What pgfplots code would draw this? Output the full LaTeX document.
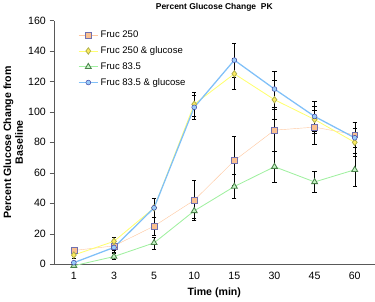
\documentclass[border=0pt]{standalone}
\usepackage{pgfplots}
\pgfplotsset{compat=1.18}
\usepackage{fontspec}
\setmainfont{Liberation Sans}
\definecolor{cOr}{HTML}{FFC8A0}
\definecolor{cOrF}{HTML}{FAC090}
\definecolor{cPur}{HTML}{7070B0}
\definecolor{cYe}{HTML}{FFFF70}
\definecolor{cGr}{HTML}{A0F0A0}
\definecolor{cBl}{HTML}{80C0F8}
\pgfplotsset{legend image code/.code={\draw[mark repeat=2,mark phase=2,#1] plot coordinates {(0cm,0cm) (0.32cm,0cm) (0.64cm,0cm)};}}
\begin{document}
\begin{tikzpicture}
\begin{axis}[
  scale only axis, width=303pt, height=230pt,
  xmin=-0.5, xmax=7.5, ymin=0, ymax=160,
  axis lines*=left, axis line style={draw=gray!70!black},
  xtick={0,...,7}, xticklabels={1,3,5,10,15,30,45,60},
  major x tick style={draw=none},
  extra x ticks={0.5,1.5,2.5,3.5,4.5,5.5,6.5},
  extra x tick labels={},
  extra x tick style={tick align=outside, major tick length=4pt, tick style={draw=gray!70!black}},
  ytick={0,20,...,160},
  tick align=outside, major tick length=4pt, tick style={draw=gray!70!black},
  tick label style={font=\fontsize{10}{11}\selectfont},
  /pgf/number format/assume math mode=true,
  title={\textbf{Percent Glucose Change\ \ PK}}, title style={font=\fontsize{8}{9}\selectfont, yshift=-1pt},
  xlabel={\textbf{Time (min)}}, xlabel style={font=\fontsize{10}{11}\selectfont, yshift=7pt},
  ylabel={\textbf{Percent Glucose Change from}\\\textbf{Baseline}}, ylabel style={font=\fontsize{10}{11}\selectfont, align=center, yshift=-2pt},
  legend style={draw=none, fill=none, at={(0.065,0.975)}, anchor=north west, font=\fontsize{9}{10}\selectfont, row sep=3pt,
    /tikz/every even column/.append style={column sep=0pt}},
  legend cell align=left,
  clip=false,
]
\addplot[cOr, thin, mark=square*, mark size=2.8pt, mark options={fill=cOrF, draw=cPur},
  error bars/.cd, y dir=both, y explicit, error bar style={black, thin}, error mark options={rotate=90, black, mark size=2pt}]
 coordinates {(0,9) +- (0,2) (1,12) +- (0,3) (2,25) +- (0,6) (3,42) +- (0,13) (4,68) +- (0,16) (5,88) +- (0,14) (6,90) +- (0,11) (7,85) +- (0,8)};
\addlegendentry{Fruc 250}
\addplot[cYe, thick, mark=diamond*, mark size=3pt, mark options={fill=cYe!85!orange, draw=cYe!70!black},
  error bars/.cd, y dir=both, y explicit, error bar style={black, thin}, error mark options={rotate=90, black, mark size=2pt}]
 coordinates {(0,6) +- (0,2) (1,15) +- (0,3) (2,37) +- (0,6) (3,105) +- (0,8) (4,125) +- (0,10) (5,108) +- (0,13) (6,95) +- (0,9) (7,80) +- (0,9)};
\addlegendentry{Fruc 250  \& glucose}
\addplot[cGr, thick, mark=triangle*, mark size=3.2pt, mark options={fill=cGr!60!white, draw=green!30!black!70},
  error bars/.cd, y dir=both, y explicit, error bar style={black, thin}, error mark options={rotate=90, black, mark size=2pt}]
 coordinates {(0,-1) +- (0,1) (1,5) +- (0,2) (2,14) +- (0,4) (3,35) +- (0,5) (4,51) +- (0,8) (5,64) +- (0,10) (6,54) +- (0,7) (7,62) +- (0,11)};
\addlegendentry{Fruc 83.5}
\addplot[cBl, very thick, mark=*, mark size=2.3pt, mark options={fill=cBl!80!white, draw=blue!50!black!80, thin}, 
  error bars/.cd, y dir=both, y explicit, error bar style={black, thin}, error mark options={rotate=90, black, mark size=2pt}]
 coordinates {(0,1) +- (0,1) (1,11) +- (0,3) (2,37) +- (0,6) (3,103) +- (0,8) (4,134) +- (0,11) (5,115) +- (0,12) (6,97) +- (0,10) (7,83) +- (0,10)};
\addlegendentry{Fruc 83.5 \& glucose}
\end{axis}
\end{tikzpicture}
\end{document}
